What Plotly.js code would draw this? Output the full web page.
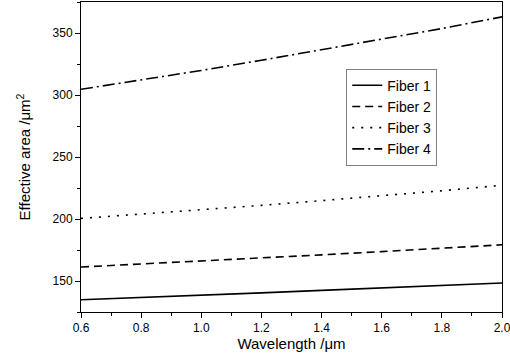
<!DOCTYPE html>
<html><head><meta charset="utf-8">
<script src="https://cdn.plot.ly/plotly-3.0.1.min.js"></script>
<style>html,body{margin:0;padding:0;background:#fff}#plot{width:510px;height:364px}</style>
</head><body><div id="plot"></div>
<script>
const wavelength = [0.6, 0.8, 1.0, 1.2, 1.4, 1.6, 1.8, 2.0];
const fiber1 = [134.9, 136.6, 138.5, 140.4, 142.4, 144.4, 146.4, 148.4];
const fiber2 = [161.3, 163.6, 166.0, 168.5, 171.1, 173.7, 176.4, 179.2];
const fiber3 = [200.5, 203.9, 207.4, 211.0, 214.8, 218.7, 222.8, 227.2];
const fiber4 = [304.6, 312.0, 319.8, 328.0, 336.5, 344.8, 353.6, 363.0];
const names = ["Fiber 1", "Fiber 2", "Fiber 3", "Fiber 4"];
const xTickVals = [0.6, 0.8, 1.0, 1.2, 1.4, 1.6, 1.8, 2.0];
const xTickText = ["0.6", "0.8", "1.0", "1.2", "1.4", "1.6", "1.8", "2.0"];
const yTickVals = [150, 200, 250, 300, 350];
const dashes = ["solid", "8px,5px", "2px,7px", "12px,4px,2px,4px"];
const series = [fiber1, fiber2, fiber3, fiber4];

const FONT = "Liberation Sans, Arial, sans-serif";
const traces = series.map((s, i) => ({
  x: wavelength, y: s, name: names[i], type: "scatter", mode: "lines",
  line: {color: "#000", width: 1.6, dash: dashes[i]}
}));

const axisCommon = {
  showline: true, mirror: true, linecolor: "#000", linewidth: 1,
  ticks: "outside", ticklen: 5, tickwidth: 1, tickcolor: "#000",
  showgrid: false, zeroline: false, ticklabeloverflow: "allow",
  tickfont: {family: FONT, size: 12, color: "#000"},
  minor: {ticks: "outside", ticklen: 3, tickcolor: "#000", tickwidth: 1, showgrid: false}
};

const layout = {
  width: 510, height: 364,
  margin: {l: 81, r: 8, t: 2, b: 52},
  paper_bgcolor: "#fff", plot_bgcolor: "#fff",
  showlegend: true,
  legend: {x: 0.63, y: 0.785, xanchor: "left", yanchor: "top",
    bordercolor: "#808080", borderwidth: 1, bgcolor: "#fff",
    font: {family: FONT, size: 14, color: "#000"},
    tracegroupgap: 0, itemwidth: 30},
  xaxis: Object.assign({}, axisCommon, {
    range: [0.6, 2.0], tickmode: "array", tickvals: xTickVals, ticktext: xTickText,
    minor: Object.assign({}, axisCommon.minor, {tickmode: "linear", tick0: 0.6, dtick: 0.1}),
    title: {text: "Wavelength /μm", standoff: 4, font: {family: FONT, size: 15, color: "#000"}}
  }),
  yaxis: Object.assign({}, axisCommon, {
    range: [125, 375], tickmode: "array", tickvals: yTickVals,
    minor: Object.assign({}, axisCommon.minor, {tickmode: "linear", tick0: 125, dtick: 25}),
    title: {text: "Effective area /μm<sup>2</sup>", standoff: 18, font: {family: FONT, size: 15, color: "#000"}}
  })
};

Plotly.newPlot("plot", traces, layout, {displayModeBar: false, staticPlot: true});
</script>
</body></html>
